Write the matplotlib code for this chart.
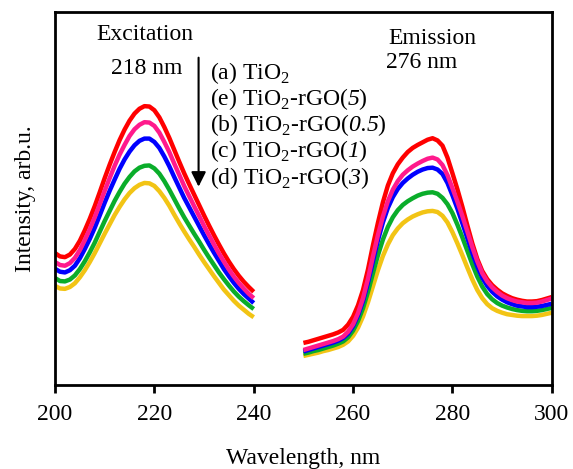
import matplotlib.pyplot as plt

plt.rcParams['font.family'] = 'Liberation Serif'
plt.rcParams['mathtext.fontset'] = 'custom'
plt.rcParams['mathtext.rm'] = 'Liberation Serif'
# \mathit sends digits back to roman, so the italic numbers go through \mathsf
plt.rcParams['mathtext.sf'] = 'Liberation Serif:italic'

# excitation spectra, 200-240 nm
ex_wl = list(range(200, 241))
ex_a = [35.4, 34.5, 34.3, 35.0, 36.5, 38.7, 41.5, 44.6, 48.0, 51.7,
        55.5, 59.1, 62.5, 65.7, 68.5, 70.9, 72.8, 74.1, 74.8, 74.7,
        73.7, 71.8, 69.2, 66.3, 63.1, 59.9, 56.8, 53.9, 51.1, 48.3,
        45.5, 42.8, 40.2, 37.7, 35.3, 33.1, 31.1, 29.3, 27.7, 26.3, 25.0]
ex_e = [33.0, 32.2, 32.0, 32.7, 34.1, 36.2, 38.9, 41.8, 45.0, 48.5,
        52.1, 55.5, 58.8, 61.8, 64.4, 66.8, 68.6, 69.8, 70.5, 70.4,
        69.5, 67.7, 65.2, 62.5, 59.4, 56.4, 53.4, 50.7, 48.0, 45.4,
        42.7, 40.2, 37.7, 35.3, 33.1, 31.0, 29.1, 27.4, 25.9, 24.5, 23.3]
ex_b = [31.2, 30.4, 30.2, 30.8, 32.0, 34.0, 36.5, 39.2, 42.2, 45.5,
        48.9, 52.1, 55.1, 58.0, 60.5, 62.6, 64.3, 65.5, 66.1, 66.1,
        65.2, 63.6, 61.3, 58.7, 55.8, 53.0, 50.2, 47.7, 45.2, 42.7,
        40.2, 37.8, 35.5, 33.3, 31.1, 29.2, 27.4, 25.8, 24.4, 23.2, 22.0]
ex_c = [28.7, 27.9, 27.8, 28.3, 29.4, 31.1, 33.2, 35.6, 38.2, 41.1,
        44.0, 46.7, 49.4, 51.8, 54.0, 55.8, 57.3, 58.3, 58.8, 58.9,
        58.1, 56.7, 54.7, 52.4, 49.9, 47.4, 45.0, 42.8, 40.6, 38.5,
        36.3, 34.2, 32.2, 30.2, 28.4, 26.7, 25.1, 23.7, 22.5, 21.4, 20.4]
ex_d = [26.6, 25.9, 25.8, 26.3, 27.3, 28.9, 30.8, 33.0, 35.4, 38.0,
        40.6, 43.1, 45.6, 47.8, 49.8, 51.5, 52.8, 53.7, 54.2, 54.1,
        53.4, 52.0, 50.2, 48.1, 45.7, 43.4, 41.2, 39.1, 37.1, 35.0,
        33.0, 31.1, 29.2, 27.4, 25.6, 24.1, 22.6, 21.3, 20.2, 19.1, 18.2]

# emission spectra, 250-300 nm
em_wl = list(range(250, 301))
em_a = [11.3, 11.6, 12.0, 12.4, 12.8, 13.2, 13.6, 14.1, 14.8, 16.2,
        18.3, 21.4, 25.5, 31.0, 37.5, 43.5, 49.0, 53.5, 56.8, 59.2,
        61.0, 62.5, 63.6, 64.4, 65.1, 65.8, 66.2, 65.6, 64.2, 61.0,
        56.8, 52.5, 47.8, 42.8, 38.0, 33.8, 30.6, 28.4, 26.8, 25.6,
        24.6, 23.9, 23.3, 22.9, 22.6, 22.4, 22.4, 22.5, 22.8, 23.2, 23.6]
em_e = [9.4, 9.8, 10.2, 10.6, 11.0, 11.4, 11.8, 12.3, 13.0, 14.3,
        16.3, 19.3, 23.3, 28.5, 34.5, 40.2, 45.2, 49.3, 52.4, 54.7,
        56.4, 57.6, 58.6, 59.4, 60.1, 60.7, 61.0, 60.5, 59.0, 56.3,
        52.8, 49.2, 45.3, 41.2, 37.0, 33.2, 30.0, 27.8, 26.2, 25.0,
        24.0, 23.3, 22.8, 22.4, 22.2, 22.0, 22.0, 22.1, 22.4, 22.8, 23.2]
em_b = [9.0, 9.4, 9.8, 10.2, 10.6, 11.0, 11.4, 11.9, 12.6, 13.8,
        15.8, 18.7, 22.5, 27.5, 33.2, 38.8, 43.6, 47.5, 50.4, 52.6,
        54.2, 55.4, 56.4, 57.2, 57.8, 58.2, 58.3, 57.8, 56.6, 54.2,
        50.9, 47.3, 43.4, 39.4, 35.4, 31.8, 28.8, 26.6, 25.0, 23.8,
        22.9, 22.2, 21.7, 21.3, 21.1, 20.9, 20.9, 21.0, 21.2, 21.5, 21.8]
em_c = [8.4, 8.7, 9.1, 9.4, 9.8, 10.2, 10.6, 11.1, 11.7, 12.8,
        14.6, 17.2, 20.6, 25.0, 30.0, 34.8, 39.0, 42.4, 45.0, 46.9,
        48.3, 49.3, 50.1, 50.8, 51.3, 51.6, 51.7, 51.3, 50.2, 48.5,
        46.1, 43.0, 39.6, 36.0, 32.4, 29.1, 26.4, 24.4, 23.0, 22.0,
        21.3, 20.8, 20.4, 20.1, 19.9, 19.8, 19.8, 19.9, 20.1, 20.4, 20.7]
em_d = [7.8, 8.1, 8.4, 8.7, 9.1, 9.4, 9.8, 10.2, 10.8, 11.7,
        13.2, 15.4, 18.4, 22.2, 26.5, 30.8, 34.6, 37.7, 40.2, 42.0,
        43.4, 44.4, 45.2, 45.8, 46.3, 46.6, 46.7, 46.4, 45.4, 43.6,
        41.0, 38.0, 34.8, 31.5, 28.3, 25.5, 23.3, 21.7, 20.6, 19.9,
        19.4, 19.0, 18.8, 18.6, 18.5, 18.5, 18.5, 18.6, 18.8, 19.1, 19.4]

labels = ['(a) TiO$_2$',
          '(e) TiO$_2$-rGO($\\mathsf{5}$)',
          '(b) TiO$_2$-rGO($\\mathsf{0.5}$)',
          '(c) TiO$_2$-rGO($\\mathsf{1}$)',
          '(d) TiO$_2$-rGO($\\mathsf{3}$)']

# drawn bottom to top so pink sits over red in the tail
series = [(ex_d, em_d, '#f2c415'),
          (ex_c, em_c, '#0aad2a'),
          (ex_b, em_b, '#0000ff'),
          (ex_a, em_a, '#ff0000'),
          (ex_e, em_e, '#ff1a8c')]

fig = plt.figure(figsize=(5.73, 4.69), dpi=100)
ax = fig.add_axes([0.096, 0.179, 0.867, 0.795])

for ex, em, col in series:
    ax.plot(ex_wl, ex, color=col, lw=3.2, solid_capstyle='butt', solid_joinstyle='round')
    ax.plot(em_wl, em, color=col, lw=3.2, solid_capstyle='butt', solid_joinstyle='round')

ax.set_xlim(200, 300)
ax.set_ylim(0, 100)
ax.set_xticks([200, 220, 240, 260, 280, 300])
ax.set_yticks([])
ax.tick_params(axis='x', direction='out', length=6, width=2, labelsize=17, pad=8)
for s in ax.spines.values():
    s.set_linewidth(2)
ax.set_xlabel('Wavelength, nm', fontsize=17, labelpad=16)
ax.set_ylabel('Intensity, arb.u.', fontsize=17, labelpad=14)

ax.text(0.18, 0.94, 'Excitation', transform=ax.transAxes, fontsize=17,
        ha='center', va='center')
ax.text(0.185, 0.85, '218 nm', transform=ax.transAxes, fontsize=17,
        ha='center', va='center')
ax.text(0.76, 0.93, 'Emission', transform=ax.transAxes, fontsize=17,
        ha='center', va='center')
ax.text(0.737, 0.865, '276 nm', transform=ax.transAxes, fontsize=17,
        ha='center', va='center')

for i, lab in enumerate(labels):
    ax.text(0.312, 0.838 - i * 0.0705, lab, transform=ax.transAxes,
            fontsize=17, ha='left', va='center')

ax.annotate('', xy=(0.289, 0.532), xytext=(0.289, 0.878),
            xycoords='axes fraction',
            arrowprops=dict(arrowstyle='-|>', color='black', lw=1.5,
                            mutation_scale=22, shrinkA=0, shrinkB=0))

fig.savefig('out.png', dpi=100)
